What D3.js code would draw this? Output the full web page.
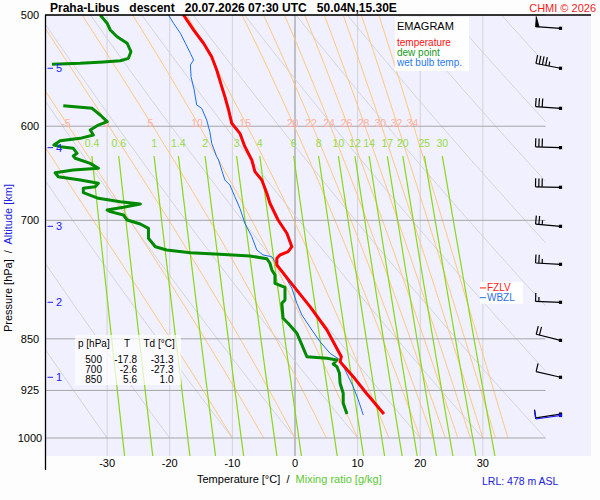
<!DOCTYPE html>
<html>
<head>
<meta charset="utf-8">
<script src="https://cdn.jsdelivr.net/npm/d3@7"></script>
<style>
  body { margin: 0; background: #fdfdfd; }
  svg { display: block; font-family: "Liberation Sans", Arial, sans-serif; }
  text { white-space: pre; }
</style>
</head>
<body>
<svg id="chart" width="600" height="500"></svg>
<script>
// ---- sounding data: [pressure hPa, value °C] ----
const temperature = [
  [500, -17.8], [512.4, -16.2], [523.7, -14.6], [535.4, -13.3], [547.2, -12.5], [562.3, -11.7],
  [571.6, -11.2], [584.2, -10.6], [597.1, -10.1], [607, -8.8], [620.4, -8.0], [634.1, -6.9],
  [646.3, -6.4], [655.2, -5.3], [669.6, -4.5], [680.7, -4.0], [699.6, -2.7], [715, -1.3],
  [730.9, -0.5], [736.9, -1.1], [740.9, -2.4], [744.9, -2.9], [753.1, -2.9], [774, -0.8],
  [806.4, 2.4], [837.8, 5.1], [875.3, 7.4], [882.5, 7.2], [904.4, 9.3], [929.3, 11.4], [961.4, 14.2]
];
// null = dew point below the chart's -40 °C edge
const dewPoint = [
  [500, -31.1], [506.8, -30.0], [512.4, -29.5], [518.1, -28.4], [523.7, -26.8], [531.0, -26.2],
  [536.8, -26.6], [538.9, -27.9], [540.0, -30.6], [541.2, -34.3], [542.1, -38.8], [560, null],
  [580.1, -37.0], [582.6, -32.4], [589.0, -31.1], [595.5, -30.0], [598.8, -31.4], [603.7, -32.7],
  [608.7, -32.2], [612.0, -34.3], [614.4, -37.5], [618.7, -38.5], [620.4, -37.5], [622.1, -35.4],
  [627.2, -34.8], [630.0, -35.4], [632.3, -35.1], [637.6, -32.7], [642.8, -31.4], [644.6, -35.4],
  [647.5, -38.3], [651.7, -37.8], [655.2, -34.3], [658.8, -31.4], [662.5, -31.9], [664.2, -33.8],
  [669.0, -33.8], [675.2, -31.4], [678.9, -27.9], [681.5, -24.7], [685.2, -27.4], [688.2, -30.0],
  [690.1, -29.5], [693.9, -27.4], [699.6, -26.8], [704.2, -24.7], [709.2, -23.4], [720.9, -23.4],
  [730.9, -22.3], [734.8, -20.5], [738.1, -16.7], [740.0, -12.0], [742.1, -7.2], [745.4, -4.5],
  [751.0, -4.0], [759.3, -3.7], [765.6, -3.2], [776.1, -3.2], [781.2, -1.6], [797.6, -1.6],
  [801.9, -2.1], [821.9, -1.9], [828.6, -1.1], [842.3, 0.3], [858.6, 1.1], [875.3, 1.9],
  [877.6, 5.1], [880.0, 6.7], [885.8, 6.1], [889.8, 6.7], [899.4, 7.1], [914.3, 7.2],
  [929.3, 7.7], [944.7, 7.7], [961.4, 8.3]
];
const wetBulb = [
  [500, -20.2], [506.8, -19.4], [515.2, -18.3], [523.7, -17.5], [532.4, -16.7], [538.3, -16.2],
  [542.7, -16.7], [553.2, -16.6], [565.4, -16.1], [579.4, -15.7], [582.6, -14.9], [593.9, -14.1],
  [605.4, -13.6], [617.0, -13.3], [630.7, -12.5], [634.1, -12.2], [644.6, -11.7], [655.2, -11.2],
  [660.6, -10.4], [673.4, -9.6], [686.3, -8.8], [703.4, -8.0], [719.0, -6.9], [734.8, -6.1],
  [740.9, -5.1], [743.0, -3.7], [749.1, -3.2], [763.5, -1.9], [782.5, -0.5], [801.9, 0.3],
  [817.5, 1.1], [837.8, 2.7], [854.0, 4.0], [870.5, 5.6], [880.0, 7.2], [894.6, 8.0],
  [919.4, 9.3], [939.5, 10.1], [963.0, 10.9]
];

// ---- table of standard levels ----
const tableLevels = [500, 700, 850];
const tableT = [-17.8, -2.6, 5.6];
const tableTd = [-31.3, -27.3, 1.0];

// ---- wind (by altitude level) ----
const windP = [961.5, 905.3, 852.1, 800.6, 752.3, 706.9, 663.1, 621.4, 582.6, 545.6, 511.0];
const windDir = [261, 283, 284, 272, 273, 275, 271, 272, 274, 281, 274];
const windSpd = [10, 10, 20, 15, 25, 25, 30, 30, 30, 45, 50];
const surfaceWind = { p: 963.8, dir: 262, spd: 10 };

// ---- axes / diagram lines ----
const isobars = [500, 600, 700, 850, 925, 1000];
const isotherms = [-30, -20, -10, 0, 10, 20, 30];
const altitudeKm = [1, 2, 3, 4, 5];
const altitudeP = [905.3, 800.6, 706.9, 621.4, 545.6];
const dryTheta = [-30, -20, -10, 0, 10, 20, 30, 40, 50, 60, 70, 80, 90, 100];
const moistThetaW = [-10, -5, 0, 5, 10, 15, 20, 22, 24, 26, 28, 30, 32, 34];
const mixingRatios = [0.4, 0.6, 1, 1.4, 2, 3, 4, 6, 8, 10, 12, 14, 17, 20, 25, 30];

const svg = d3.select('#chart');
const x = d3.scaleLinear().domain([-40, 40]).range([44.5, 545.5]);
const y = d3.scaleLog().domain([500, 1000]).range([15, 438]);
const plotL = 46, plotR = 591, plotT = 15, plotB = y(1030), diagR = x(40);

const line = d3.line().x(d => x(d[1])).y(d => y(d[0]));

// ---- thermodynamics for reference lines ----
const Rd = 287.04, cpd = 1005.7, Lv = 2.501e6, eps = 0.622;
function esat(tc) { return 6.112 * Math.exp(17.67 * tc / (tc + 243.5)); }
function moistLapse(p, tk) {
  const es = esat(tk - 273.15), rs = eps * es / (p - es);
  return ((Rd * tk + Lv * rs) / p) / (cpd + Lv * Lv * rs * eps / (Rd * tk * tk));
}
function moistAdiabat(thw) {
  const pts = [];
  let tk = thw + 273.15;
  const dp = 2;
  for (let p = 1000; p >= 500; p -= dp) {
    pts.push([p, tk - 273.15]);
    const k1 = moistLapse(p, tk);
    const k2 = moistLapse(p - dp / 2, tk - k1 * dp / 2);
    tk -= k2 * dp;
  }
  return pts;
}
function dryAdiabat(th) {
  return d3.range(500, 1000.1, 5).map(p => [p, (th + 273.15) * Math.pow(p / 1000, 0.2857) - 273.15]);
}
function mixingLine(r) {
  return d3.range(630, 1031, 10).map(p => {
    const e = (r / 1000) * p / (eps + r / 1000), l = Math.log(e / 6.112);
    return [p, 243.5 * l / (17.67 - l)];
  });
}

// ---- background ----
svg.append('rect').attr('width', 600).attr('height', 500).attr('fill', '#fdfdfd');
svg.append('rect').attr('x', plotL).attr('y', plotT).attr('width', plotR - plotL)
  .attr('height', plotB - plotT).attr('fill', '#f0f0ff');

const defs = svg.append('defs');
defs.append('clipPath').attr('id', 'clip-diag').append('rect')
  .attr('x', plotL).attr('y', plotT).attr('width', diagR - plotL).attr('height', plotB - plotT);
defs.append('clipPath').attr('id', 'clip-plot').append('rect')
  .attr('x', plotL).attr('y', plotT).attr('width', plotR - plotL).attr('height', plotB - plotT);

const grid = svg.append('g').attr('clip-path', 'url(#clip-diag)');

grid.selectAll('.isotherm').data(isotherms).enter().append('line')
  .attr('x1', d => x(d)).attr('x2', d => x(d)).attr('y1', plotT).attr('y2', plotB)
  .attr('stroke', d => d === 0 ? '#8e8e8e' : '#d2d2d6').attr('stroke-width', 1);

grid.selectAll('.dry').data(dryTheta).enter().append('path')
  .attr('d', d => line(dryAdiabat(d))).attr('fill', 'none')
  .attr('stroke', '#d4d4d8').attr('stroke-width', 1);

const moistLines = moistThetaW.map(moistAdiabat);
grid.selectAll('.moist').data(moistLines).enter().append('path')
  .attr('d', d => line(d)).attr('fill', 'none')
  .attr('stroke', '#ffc57a').attr('stroke-width', 1);

grid.selectAll('.mix').data(mixingRatios).enter().append('path')
  .attr('d', d => line(mixingLine(d))).attr('fill', 'none')
  .attr('stroke', '#88d812').attr('stroke-width', 1.2);

svg.selectAll('.isobar').data(isobars).enter().append('line')
  .attr('x1', plotL).attr('x2', diagR).attr('y1', d => y(d)).attr('y2', d => y(d))
  .attr('stroke', '#a6a6a6').attr('stroke-width', 1);

// moist adiabat labels, just above 600 hPa
const labelP = 596.5;
moistThetaW.forEach((t, i) => {
  const pt = moistLines[i].reduce((a, b) => Math.abs(b[0] - labelP) < Math.abs(a[0] - labelP) ? b : a);
  if (x(pt[1]) < 55) return;
  svg.append('text').attr('x', x(pt[1])).attr('y', y(labelP) + 4)
    .attr('text-anchor', 'middle').attr('font-size', 10.5).attr('fill', '#ffb0a0').text(String(t));
});
// mixing ratio labels
mixingRatios.forEach(r => {
  const pt = mixingLine(r)[0];
  svg.append('text').attr('x', x(pt[1])).attr('y', y(pt[0]) - 9.5)
    .attr('text-anchor', 'middle').attr('font-size', 10.5).attr('fill', '#96dc3c').text(String(r));
});

// ---- table box ----
const tbl = svg.append('g').attr('font-size', 10);
tbl.append('rect').attr('x', 75).attr('y', 335).attr('width', 106).attr('height', 50)
  .attr('fill', '#ffffff').attr('opacity', 0.72);
tbl.append('text').attr('x', 78).attr('y', 347).text('p [hPa]');
tbl.append('text').attr('x', 127).attr('y', 347).attr('text-anchor', 'middle').text('T');
tbl.append('text').attr('x', 143.5).attr('y', 347).text('Td [°C]');
tableLevels.forEach((p, i) => {
  const yy = 362.5 + i * 10;
  tbl.append('text').attr('x', 102).attr('y', yy).attr('text-anchor', 'end').text(p);
  tbl.append('text').attr('x', 137).attr('y', yy).attr('text-anchor', 'end').text(tableT[i].toFixed(1));
  tbl.append('text').attr('x', 173.5).attr('y', yy).attr('text-anchor', 'end').text(tableTd[i].toFixed(1));
});

// ---- profiles ----
const prof = svg.append('g').attr('clip-path', 'url(#clip-plot)');
prof.append('path').datum(wetBulb).attr('d', line).attr('fill', 'none')
  .attr('stroke', '#1c6fe6').attr('stroke-width', 1);
prof.append('path').datum(dewPoint).attr('d', line.defined(d => d[1] !== null)).attr('fill', 'none')
  .attr('stroke', '#008a00').attr('stroke-width', 3).attr('stroke-linejoin', 'round');
prof.append('path').datum(temperature).attr('d', line.defined(() => true)).attr('fill', 'none')
  .attr('stroke', '#ff0000').attr('stroke-width', 3).attr('stroke-linejoin', 'round');

// ---- freezing / wet-bulb zero levels ----
function zeroLevel(series) {
  for (let i = series.length - 1; i > 0; i--) {
    const a = series[i - 1], b = series[i];
    if (b[1] >= 0 && a[1] < 0) {
      const f = (0 - a[1]) / (b[1] - a[1]);
      return Math.exp(Math.log(a[0]) + f * (Math.log(b[0]) - Math.log(a[0])));
    }
  }
  return null;
}
const fzlv = zeroLevel(temperature), wbzl = zeroLevel(wetBulb);
svg.append('rect').attr('x', 480).attr('y', y(fzlv) - 6).attr('width', 43).attr('height', y(wbzl) - y(fzlv) + 12)
  .attr('fill', '#ffffff');
[[fzlv, 'FZLV', '#ff1a1a'], [wbzl, 'WBZL', '#2a6fe8']].forEach(([p, lbl, c]) => {
  svg.append('line').attr('x1', 480).attr('x2', 486).attr('y1', y(p)).attr('y2', y(p)).attr('stroke', c);
  svg.append('text').attr('x', 487).attr('y', y(p) + 3.5).attr('font-size', 10).attr('fill', c).text(lbl);
});

// ---- wind barbs ----
function barb(p, dir, spd, color) {
  const g = svg.append('g').attr('stroke', color).attr('fill', color).attr('stroke-width', 1.2);
  const x0 = 560.5, y0 = y(p);
  const a = dir * Math.PI / 180, ux = Math.sin(a), uy = -Math.cos(a);
  const px = -uy, py = ux;
  const L = 25, gap = 3.3, full = 8.5, half = 4.5;
  const tx = x0 + ux * L, ty = y0 + uy * L;
  g.append('line').attr('x1', x0).attr('y1', y0).attr('x2', tx).attr('y2', ty);
  let s = Math.round(spd / 5) * 5, d = 0;
  while (s >= 50) {
    const bx = tx - ux * d, by = ty - uy * d;
    g.append('polygon').attr('stroke-width', 0.8)
      .attr('points', [[bx, by], [bx + px * 10, by + py * 10], [bx - ux * 3.5, by - uy * 3.5]].join(' '));
    d += 4.5; s -= 50;
  }
  while (s >= 10) {
    const bx = tx - ux * d, by = ty - uy * d;
    g.append('line').attr('x1', bx).attr('y1', by).attr('x2', bx + px * full).attr('y2', by + py * full);
    d += gap; s -= 10;
  }
  if (s >= 5) {
    const bx = tx - ux * d, by = ty - uy * d;
    g.append('line').attr('x1', bx).attr('y1', by).attr('x2', bx + px * half).attr('y2', by + py * half);
  }
  g.append('rect').attr('x', x0 - 1.6).attr('y', y0 - 1.6).attr('width', 3.2).attr('height', 3.2).attr('stroke', 'none');
}
windP.forEach((p, i) => barb(p, windDir[i], windSpd[i], '#000000'));
barb(surfaceWind.p, surfaceWind.dir, surfaceWind.spd, '#1010ee');

// ---- legend ----
const lg = svg.append('g');
lg.append('rect').attr('x', 395).attr('y', 17).attr('width', 74).attr('height', 54).attr('fill', '#ffffff').attr('opacity', 0.92);
lg.append('text').attr('x', 397).attr('y', 30).attr('font-size', 11).attr('fill', '#000').text('EMAGRAM');
[['temperature', '#ff1010'], ['dew point', '#1a9a1a'], ['wet bulb temp.', '#2a7af0']].forEach(([t, c], i) => {
  lg.append('text').attr('x', 397).attr('y', 46 + i * 10).attr('font-size', 10).attr('fill', c).text(t);
});

// ---- axes frame ----
svg.append('line').attr('x1', plotL - 0.5).attr('x2', plotL - 0.5).attr('y1', plotT).attr('y2', 470)
  .attr('stroke', '#000').attr('stroke-width', 1.3);
svg.append('line').attr('x1', plotL - 1).attr('x2', plotR).attr('y1', plotT).attr('y2', plotT)
  .attr('stroke', '#000').attr('stroke-width', 1.3);

svg.selectAll('.ylab').data(isobars).enter().append('text')
  .attr('x', 30).attr('y', d => y(d) + 4).attr('text-anchor', 'middle').attr('font-size', 11).text(d => d);

svg.selectAll('.xlab').data(isotherms).enter().append('text')
  .attr('x', d => x(d)).attr('y', 466.5).attr('text-anchor', 'middle').attr('font-size', 11).text(d => d);

altitudeKm.forEach((km, i) => {
  const yy = y(altitudeP[i]);
  svg.append('line').attr('x1', 47.5).attr('x2', 53).attr('y1', yy).attr('y2', yy).attr('stroke', '#2020ff');
  svg.append('text').attr('x', 56).attr('y', yy + 4).attr('font-size', 11).attr('fill', '#2020ff').text(km);
});

// ---- titles ----
svg.append('text').attr('x', 50).attr('y', 12).attr('font-size', 12).attr('font-weight', 'bold')
  .text('Praha-Libus   descent   20.07.2026 07:30 UTC   50.04N,15.30E');
svg.append('text').attr('x', 596).attr('y', 12).attr('text-anchor', 'end').attr('font-size', 11)
  .attr('fill', '#ee1c1c').text('CHMI © 2026');

const xt = svg.append('text').attr('x', 197).attr('y', 483).attr('font-size', 11);
xt.append('tspan').attr('fill', '#000').text('Temperature [°C]  /  ');
xt.append('tspan').attr('fill', '#5cc833').text('Mixing ratio [g/kg]');

const yt = svg.append('text').attr('transform', 'translate(12,332) rotate(-90)').attr('font-size', 11);
yt.append('tspan').attr('fill', '#000').text('Pressure [hPa]  /  ');
yt.append('tspan').attr('fill', '#2020e0').text('Altitude [km]');

svg.append('text').attr('x', 482).attr('y', 485).attr('font-size', 10.5).attr('fill', '#2020e0')
  .text('LRL: 478 m ASL');
</script>
</body>
</html>
